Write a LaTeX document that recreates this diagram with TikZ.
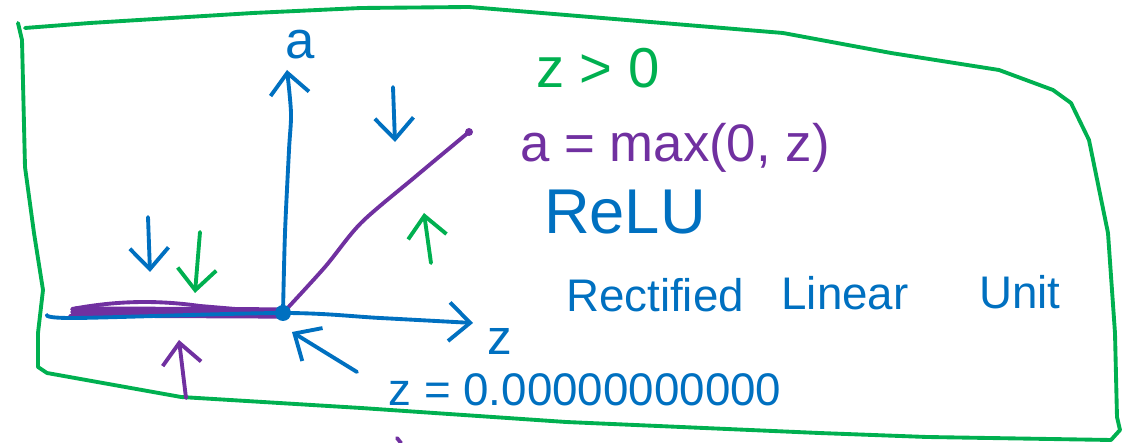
\documentclass[tikz,border=0pt]{standalone}
\usepackage{fontspec}
\setmainfont{Liberation Sans}
\definecolor{skgreen}{RGB}{0,176,80}
\definecolor{skblue}{RGB}{0,112,192}
\definecolor{skpurple}{RGB}{112,48,160}
\usetikzlibrary{arrows.meta}

\begin{document}
\begin{tikzpicture}[x=0.01cm,y=-0.01cm,
  pen/.style={line width=1.1pt,line cap=round,line join=round},
  barb/.style={pen,-{Straight Barb[length=6pt,width=11pt]}},
  txt/.style={inner sep=0pt,font=\fontsize{15}{18}\selectfont}
]
  \useasboundingbox (0,0) rectangle (1132,443);
  % frame
  \draw[pen,skgreen] (18,23) -- (22,40) -- (25,167) -- (34,233) -- (43,290) -- (38,333)
    -- (38,367) -- (47,373) -- (181,397) -- (361,408) -- (566,422) -- (819,433)
    -- (927,437) -- (1111,440) -- (1120,430) -- (1117,417) -- (1115,333) -- (1108,233)
    -- (1089,140) -- (1071,103) -- (1053,90) -- (999,70) -- (891,53) -- (783,33)
    -- (566,15) -- (469,7) -- (361,8) -- (253,13) -- (90,23) -- (25,28);
  % axes
  \coordinate (O) at (283,313);
  \draw[pen,skpurple,line width=3.2pt] (76,312) -- (O);
  \draw[pen,skpurple] (72,309) .. controls (110,302) and (150,299) .. (200,306) -- (O);
  \draw[pen,skpurple] (70,316) .. controls (130,312) and (200,318) .. (O);
  \draw[barb,skblue] plot[smooth] coordinates {(47,315) (76,318) (O) (380,318) (473,323)};
  \draw[barb,skblue] plot[smooth] coordinates {(O) (285,233) (289,150) (291,113) (287,70)};
  \draw[pen,skpurple] plot[smooth] coordinates {(O) (325,267) (361,223) (415,177) (469,132)};
  \fill[skpurple] (469,132) circle[radius=4];
  \fill[skblue] (O) circle[radius=8];
  % hints
  \draw[barb,skblue] (393,87) -- (395,142);
  \draw[barb,skgreen] (431,263) -- (424,213);
  \draw[barb,skblue] (148,217) -- (150,272);
  \draw[barb,skgreen] (200,232) -- (195,293);
  \draw[barb,skpurple] (186,398) -- (179,340);
  \draw[barb,skblue] (357,372) -- (292,332);
  \draw[pen,skpurple] (397,438) -- (401,443);
  % labels
  \node[txt,skblue] (alab) at (300,45) {a};
  \node[txt,skblue,font=\fontsize{14}{17}\selectfont] (zlab) at (500,342) {z};
  \node[txt,skgreen,font=\fontsize{16}{19}\selectfont] (cond) at (598,68) {z > 0};
  \node[txt,skpurple] (act) at (675,148) {a = max(0, z)};
  \node[txt,skblue,font=\fontsize{18}{21}\selectfont] (name) at (625,212) {ReLU};
  \node[txt,skblue,font=\fontsize{13}{16}\selectfont] (w1) at (655,295) {Rectified};
  \node[txt,skblue,font=\fontsize{13}{16}\selectfont] (w2) at (845,293) {Linear};
  \node[txt,skblue,font=\fontsize{13}{16}\selectfont] (w3) at (1020,292) {Unit};
  \node[txt,skblue,font=\fontsize{13}{16}\selectfont] (zval) at (585,390) {z = 0.00000000000};
\end{tikzpicture}
\end{document}
